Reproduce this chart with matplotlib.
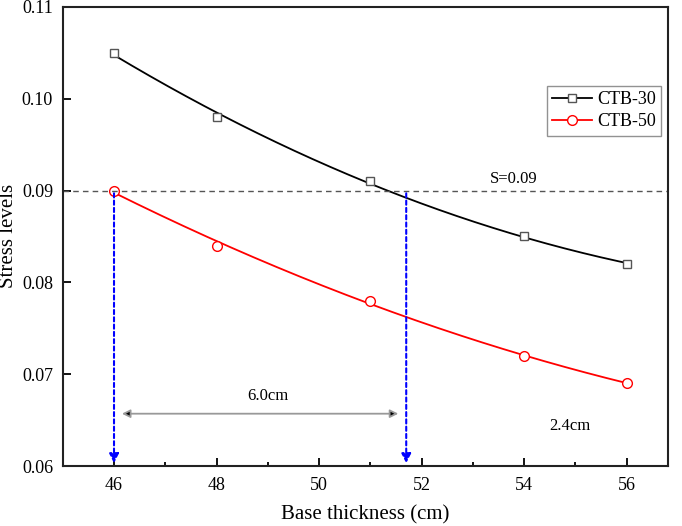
import numpy as np
import matplotlib
matplotlib.use('Agg')
import matplotlib.pyplot as plt

# data
thickness = [46, 48, 51, 54, 56]
ctb30 = [0.105, 0.098, 0.091, 0.085, 0.082]
ctb50 = [0.090, 0.084, 0.078, 0.072, 0.069]
s_level = 0.09
x_cross30 = 51.7
x_cross50 = 46

plt.rcParams['font.family'] = ['Liberation Serif', 'DejaVu Serif']
plt.rcParams['font.size'] = 12

fig = plt.figure(figsize=(6.82, 5.26), dpi=100)
ax = fig.add_axes([0.092, 0.114, 0.887, 0.873])

# smooth fitted curves
xs = np.linspace(46, 56, 200)
fit30 = np.polyval(np.polyfit(thickness, ctb30, 2), xs)
fit50 = np.polyval(np.polyfit(thickness, ctb50, 2), xs)

ax.plot(xs, fit30, color='black', lw=1.3)
ax.plot(xs, fit50, color='red', lw=1.3)
ax.plot(thickness, ctb30, ls='none', marker='s', ms=6, mfc='white', mec='#555555', mew=1)
ax.plot(thickness, ctb50, ls='none', marker='o', ms=7, mfc='white', mec='red', mew=1)

# legend handles
ax.plot([], [], color='black', lw=1.3, marker='s', ms=6, mfc='white', mec='#555555', label='CTB-30')
ax.plot([], [], color='red', lw=1.3, marker='o', ms=7, mfc='white', mec='red', label='CTB-50')

ax.axhline(s_level, color='#555555', ls=(0, (4, 3)), lw=1)
ax.text(53.8, s_level + 0.0004, 'S=0.09', ha='center', va='bottom', fontsize=12)

# blue dashed arrows down to the axis
for xc in [x_cross50, x_cross30]:
    ax.annotate('', xy=(xc, 0.06), xytext=(xc, s_level),
                arrowprops=dict(arrowstyle='-|>', color='blue', lw=1.5,
                                ls=(0, (2, 1.5)), mutation_scale=14))

ax.annotate('', xy=(46.1, 0.0657), xytext=(51.6, 0.0657),
            arrowprops=dict(arrowstyle='<|-|>', color='#999999', lw=1.3,
                            mutation_scale=12, fc='black', ec='#999999'))
ax.text(49.0, 0.0668, '6.0cm', ha='center', va='bottom', fontsize=12)
ax.text(54.9, 0.0644, '2.4cm', ha='center', va='center', fontsize=12)

ax.set_xlim(45, 56.8)
ax.set_ylim(0.06, 0.11)
ax.set_xticks([46, 48, 50, 52, 54, 56])
ax.set_xticks([47, 49, 51, 53, 55], minor=True)
ax.set_yticks([0.06, 0.07, 0.08, 0.09, 0.10, 0.11])
ax.set_yticklabels(['0.06', '0.07', '0.08', '0.09', '0.10', '0.11'])
ax.tick_params(direction='in', length=6, width=1.3, labelsize=13)
ax.tick_params(axis='x', pad=8)
ax.tick_params(axis='y', pad=7)
ax.tick_params(which='minor', direction='in', length=3, width=1.3)
for sp in ax.spines.values():
    sp.set_linewidth(1.5)
    sp.set_color('#222222')

ax.set_xlabel('Base thickness (cm)', fontsize=15, labelpad=8)
ax.set_ylabel('Stress levels', fontsize=15)
ax.yaxis.set_label_coords(-0.074, 0.5)

leg = ax.legend(loc='upper left', bbox_to_anchor=(0.785, 0.848), fontsize=13,
                frameon=True, fancybox=False, edgecolor='#777777',
                handlelength=2.2, borderpad=0.3, labelspacing=0.3, handletextpad=0.3)
leg.get_frame().set_linewidth(1)

fig.savefig('out.png', dpi=100)
